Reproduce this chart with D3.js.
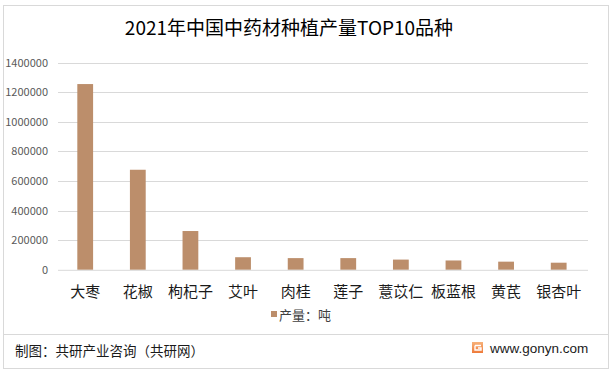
<!DOCTYPE html>
<html><head><meta charset="utf-8">
<script src="https://cdn.jsdelivr.net/npm/d3@7/dist/d3.min.js"></script>
<style>
html,body{margin:0;padding:0;background:#fff;}
svg{display:block;font-family:"Noto Sans CJK SC","Noto Sans",sans-serif;}
</style></head>
<body>
<svg id="chart" width="615" height="377"></svg>
<script>
const categories = ["大枣","花椒","枸杞子","艾叶","肉桂","莲子","薏苡仁","板蓝根","黄芪","银杏叶"];
const values = [1255000, 676000, 262000, 85000, 79000, 79000, 69000, 63000, 55000, 48000];
const yTicks = [0,200000,400000,600000,800000,1000000,1200000,1400000];
const titleText = "2021年中国中药材种植产量TOP10品种";
const legendLabel = "产量：吨";
const footerLeft = "制图：共研产业咨询（共研网）";
const footerRight = "www.gonyn.com";

const svg = d3.select("#chart");
const barColor = "#BC8E6B";

// outer frame
svg.append("rect").attr("x",3.5).attr("y",5.5).attr("width",605).attr("height",363)
  .attr("fill","#fff").attr("stroke","#d9d9d9").attr("stroke-width",1);

// title
svg.append("text").attr("x",289).attr("y",35).attr("text-anchor","middle")
  .attr("font-size",19).attr("fill","#000").text(titleText);

const x = d3.scaleBand().domain(categories).range([58.9,585]).paddingInner(0.7).paddingOuter(0.35);
const y = d3.scaleLinear().domain([0,1400000]).range([269.8,62.6]);

// gridlines
svg.append("g").selectAll("line").data(yTicks.filter(d=>d>0)).join("line")
  .attr("x1",58).attr("x2",588)
  .attr("y1",d=>Math.round(y(d))+0.5).attr("y2",d=>Math.round(y(d))+0.5)
  .attr("stroke","#d9d9d9").attr("stroke-width",1);

// y axis labels
const yAxis = d3.axisLeft(y).tickValues(yTicks).tickSize(0).tickPadding(0).tickFormat(d3.format("d"));
const gy = svg.append("g").attr("transform","translate(48,0)").call(yAxis);
gy.select(".domain").remove();
gy.selectAll("text").attr("font-size",11).attr("fill","#595959")
  .attr("font-family","'Noto Sans CJK SC','Noto Sans',sans-serif");

// bars
svg.append("g").selectAll("rect").data(categories).join("rect")
  .attr("x",d=>x(d)).attr("width",x.bandwidth())
  .attr("y",(d,i)=>y(values[i])).attr("height",(d,i)=>y(0)-y(values[i]))
  .attr("fill",barColor);

// baseline
svg.append("line").attr("x1",58).attr("x2",588).attr("y1",270.3).attr("y2",270.3)
  .attr("stroke","#d9d9d9").attr("stroke-width",1);

// x axis labels
const xAxis = d3.axisBottom(x).tickSize(0).tickPadding(0);
const gx = svg.append("g").attr("transform","translate(0,286)").call(xAxis);
gx.select(".domain").remove();
gx.selectAll("text").attr("font-size",15).attr("fill","#1a1a1a")
  .attr("font-family","'Noto Sans CJK SC','Noto Sans',sans-serif");

// legend
const lg = svg.append("g");
lg.append("rect").attr("x",271).attr("y",311).attr("width",6).attr("height",6).attr("fill",barColor);
lg.append("text").attr("x",279).attr("y",320).attr("font-size",13).attr("fill","#404040").text(legendLabel);

// footer separator
svg.append("line").attr("x1",4).attr("x2",608).attr("y1",334.5).attr("y2",334.5)
  .attr("stroke","#d9d9d9").attr("stroke-width",1);

svg.append("text").attr("x",15).attr("y",356).attr("font-size",13.5).attr("fill","#1a1a1a").text(footerLeft);

// logo
const defs = svg.append("defs");
const grad = defs.append("linearGradient").attr("id","lg1").attr("x1",0).attr("y1",0).attr("x2",0).attr("y2",1);
grad.append("stop").attr("offset","0%").attr("stop-color","#f7b27a");
grad.append("stop").attr("offset","100%").attr("stop-color","#ee7a3a");
svg.append("rect").attr("x",472).attr("y",342).attr("width",11).attr("height",11).attr("fill","url(#lg1)");
svg.append("path").attr("d","M475,345.5 H481 M475,345.5 V350 H481 V348 H478")
  .attr("fill","none").attr("stroke","#fff").attr("stroke-width",1.4);
svg.append("text").attr("x",490).attr("y",353).attr("font-size",13.5).attr("fill","#1a1a1a")
  .attr("font-family","'Liberation Sans',Arial,sans-serif").text(footerRight);
</script>
</body></html>
